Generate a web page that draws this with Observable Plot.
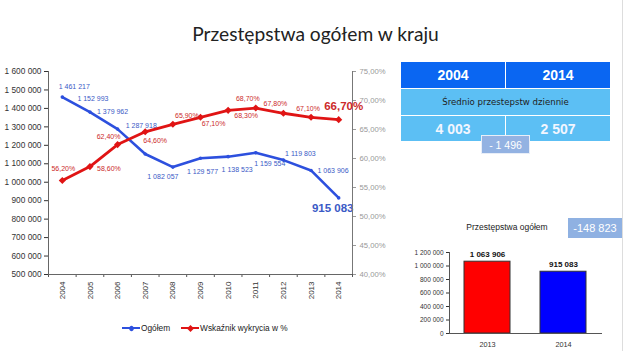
<!DOCTYPE html>
<html><head><meta charset="utf-8">
<script src="https://cdn.jsdelivr.net/npm/d3@7"></script>
<script src="https://cdn.jsdelivr.net/npm/@observablehq/plot@0.6"></script>
<style>
body{margin:0;background:#fff;font-family:"Liberation Sans",Arial,sans-serif;}
#root{position:relative;width:625px;height:351px;overflow:hidden;background:#fff;}
.abs{position:absolute;}
.abs svg{overflow:visible;}
.cell{position:absolute;display:flex;align-items:center;justify-content:center;box-sizing:border-box;}
</style></head><body><div id="root"></div>
<script>
// ---- data ----
const years = [2004, 2005, 2006, 2007, 2008, 2009, 2010, 2011, 2012, 2013, 2014];
const ogolem = [1461217, 1379962, 1287918, 1152993, 1082057, 1129577, 1138523, 1159554, 1119803, 1063906, 915083];
const ogolemLabels = ["1 461 217", "1 152 993", "1 379 962", "1 287 918", "1 082 057", "1 129 577", "1 138 523", "1 159 554", "1 119 803", "1 063 906", "915 083"];
const wskaznik = [56.2, 58.6, 62.4, 64.6, 65.9, 67.1, 68.3, 68.7, 67.8, 67.1, 66.7];
const wskaznikLabels = ["56,20%", "58,60%", "62,40%", "64,60%", "65,90%", "67,10%", "68,30%", "68,70%", "67,80%", "67,10%", "66,70%"];
const leftTicks = [500000, 600000, 700000, 800000, 900000, 1000000, 1100000, 1200000, 1300000, 1400000, 1500000, 1600000];
const rightTicks = [40, 45, 50, 55, 60, 65, 70, 75];
const seriesNames = ["Ogółem", "Wskaźnik wykrycia w %"];
const title = "Przestępstwa ogółem w kraju";

const tableYears = ["2004", "2014"];
const tableSubtitle = "Średnio przestepstw dziennie";
const dailyAvg = ["4 003", "2 507"];
const dailyDiff = "- 1 496";

const barTitle = "Przestępstwa ogółem";
const barYears = ["2013", "2014"];
const barValues = [1063906, 915083];
const barLabels = ["1 063 906", "915 083"];
const barDiff = "-148 823";
const barTicks = [0, 200000, 400000, 600000, 800000, 1000000, 1200000];

// ---- style / layout ----
const BLUE = "#2d50de", RED = "#e01414";
const BLUE_T = "#3a5ac6", RED_T = "#cc2a2a";
const barColors = ["#ff0000", "#0000ff"];
// label offsets [dx, dy] relative to each point
const blueOff = [[12,-10],[3,-13],[-5,-17],[-4,-28],[-10,10],[2,13],[9,13],[14,11],[17,-6],[22,0],[-6,10]];
const redOff = [[1,-12],[19,2],[-9,-8],[10,9],[14,-9],[13,6],[18,5],[-8,-9],[-8,-10],[-3,-9],[5,-13]];

const fmt = d3.formatLocale({decimal: ",", thousands: " ", grouping: [3], currency: ["", ""]}).format(",");
const pct = p => p.toFixed(2).replace(".", ",") + "%";
const root = document.getElementById("root");
const FONT = "Liberation Sans, Arial, sans-serif";

function place(el, left, top) {
  const d = document.createElement("div");
  d.className = "abs"; d.style.left = left + "px"; d.style.top = top + "px";
  d.appendChild(el); root.appendChild(d); return d;
}

const data = years.map((y, i) => ({i, year: y, ogolem: ogolem[i], wsk: wskaznik[i]}));
const bounds = d3.range(2003.5, 2015, 1);
const frameOpts = {width: 400, height: 351, marginLeft: 48, marginRight: 48, marginTop: 71, marginBottom: 77,
  style: {background: "transparent", fontFamily: FONT}};

// ---- main chart, left axis + blue series ----
const last = data.length - 1;
const plotA = Plot.plot({
  ...frameOpts,
  x: {type: "linear", domain: [2003.5, 2014.5], axis: null, label: null},
  y: {domain: [500000, 1600000], axis: null, label: null},
  marks: [
    Plot.axisY({ticks: leftTicks, tickFormat: fmt, tickSize: 4, tickPadding: 3, fontSize: 8.3, color: "#333", label: null}),
    Plot.axisX({ticks: years, tickFormat: d => String(d), tickSize: 0, tickRotate: -90, tickPadding: 7, fontSize: 8, color: "#333", label: null}),
    Plot.axisX({ticks: bounds, tickFormat: () => "", tickSize: 3, color: "#555", label: null}),
    Plot.ruleX([2003.5], {stroke: "#666"}),
    Plot.ruleY([500000], {stroke: "#666"}),
    Plot.line(data, {x: "year", y: "ogolem", stroke: BLUE, strokeWidth: 2.6}),
    Plot.dot(data, {x: "year", y: "ogolem", r: 1.8, fill: BLUE}),
    ...data.map(d => Plot.text([d], {x: "year", y: "ogolem", text: () => ogolemLabels[d.i],
      dx: blueOff[d.i][0], dy: blueOff[d.i][1], fill: BLUE_T,
      fontSize: d.i === last ? 11.5 : 7, fontWeight: d.i === last ? "bold" : "normal"}))
  ]
});
place(plotA, 0, 0);

// ---- main chart, right axis + red series ----
const plotB = Plot.plot({
  ...frameOpts,
  x: {type: "linear", domain: [2003.5, 2014.5], axis: null, label: null},
  y: {domain: [40, 75], axis: null, label: null},
  marks: [
    Plot.axisY({anchor: "right", ticks: rightTicks, tickFormat: pct, tickSize: 3, tickPadding: 4, fontSize: 7.7, color: "#999", label: null}),
    Plot.ruleX([2014.5], {stroke: "#777"}),
    Plot.line(data, {x: "year", y: "wsk", stroke: RED, strokeWidth: 2.8}),
    Plot.dot(data, {x: "year", y: "wsk", r: 3.2, symbol: "diamond2", fill: RED}),
    ...data.map(d => Plot.text([d], {x: "year", y: "wsk", text: () => wskaznikLabels[d.i],
      dx: redOff[d.i][0], dy: redOff[d.i][1], fill: RED_T,
      fontSize: d.i === last ? 11.5 : 7, fontWeight: d.i === last ? "bold" : "normal"}))
  ]
});
place(plotB, 0, 0);

// ---- title ----
const t = document.createElement("div");
t.textContent = title;
t.style.cssText = "position:absolute;left:3px;width:625px;top:22px;text-align:center;font-family:Lato,sans-serif;font-size:19.2px;line-height:24px;color:#222;";
root.appendChild(t);

// ---- slide edge ----
const edge = document.createElement("div");
edge.style.cssText = "position:absolute;left:622px;top:0;width:1px;height:351px;background:#ddd;";
root.appendChild(edge);

// ---- legend ----
const legend = document.createElement("div");
legend.style.cssText = "position:absolute;left:122px;top:323px;font-size:8.3px;line-height:10px;color:#222;display:flex;align-items:center;";
[[BLUE, seriesNames[0], "50%"], [RED, seriesNames[1], "0"]].forEach(([c, name, rad], k) => {
  const sw = document.createElement("span");
  sw.style.cssText = `position:relative;display:inline-block;width:18px;height:2.5px;background:${c};margin-left:${k ? 11 : 0}px;margin-right:1px;`;
  const m = document.createElement("span");
  m.style.cssText = `position:absolute;left:6.5px;top:-1.2px;width:5px;height:5px;background:${c};border-radius:${rad};transform:rotate(45deg);`;
  sw.appendChild(m);
  const tx = document.createElement("span"); tx.textContent = name;
  legend.appendChild(sw); legend.appendChild(tx);
});
root.appendChild(legend);

// ---- table ----
const DARK = "#0a66f2", LIGHT = "#5cbff4";
function cell(left, top, w, h, bg, text, css) {
  const c = document.createElement("div");
  c.className = "cell";
  c.style.cssText += `left:${left}px;top:${top}px;width:${w}px;height:${h}px;background:${bg};${css}`;
  c.textContent = text; root.appendChild(c); return c;
}
cell(401, 62, 104, 26, DARK, tableYears[0], "color:#fff;font-weight:bold;font-size:14px;");
cell(506, 62, 104, 26, DARK, tableYears[1], "color:#fff;font-weight:bold;font-size:14px;");
cell(401, 89, 209, 26, LIGHT, tableSubtitle, "color:#222;font-size:8.6px;font-family:'DejaVu Sans',sans-serif;");
cell(401, 116, 104, 25, LIGHT, dailyAvg[0], "color:#f2f6ff;font-weight:bold;font-size:14px;");
cell(506, 116, 104, 25, LIGHT, dailyAvg[1], "color:#f2f6ff;font-weight:bold;font-size:14px;");
cell(481, 135, 49, 19, "#93b2e2", dailyDiff, "color:#fff;font-size:10.5px;border:1px solid #e8eef8;");

// ---- bar chart ----
cell(450, 219, 114, 16, "transparent", barTitle, "color:#222;font-size:8.5px;");
cell(568, 218, 54, 20, "#8fb1e2", barDiff, "color:#fff;font-size:11px;");
const barData = barYears.map((y, i) => ({i, year: y, value: barValues[i]}));
const plotC = Plot.plot({
  width: 225, height: 111, marginLeft: 49, marginRight: 23, marginTop: 12, marginBottom: 18,
  style: {background: "transparent", fontFamily: FONT},
  x: {type: "band", domain: barYears, paddingInner: 0.39, paddingOuter: 0.195, axis: null, label: null},
  y: {domain: [0, 1200000], axis: null, label: null},
  marks: [
    Plot.axisY({ticks: barTicks, tickFormat: fmt, tickSize: 3, tickPadding: 3, fontSize: 6.5, color: "#333", label: null}),
    Plot.axisX({tickSize: 0, tickPadding: 8, fontSize: 7.3, color: "#333", label: null}),
    Plot.barY(barData, {x: "year", y: "value", fill: (d) => barColors[d.i], stroke: "#333", strokeWidth: 1}),
    Plot.frame({anchor: "left", stroke: "#555"}),
    Plot.ruleY([0], {stroke: "#555"}),
    Plot.text(barData, {x: "year", y: "value", text: (d) => barLabels[d.i], dy: -7, fontWeight: "bold", fontSize: 8, fill: "#111"})
  ]
});
place(plotC, 400, 240);
</script></body></html>
